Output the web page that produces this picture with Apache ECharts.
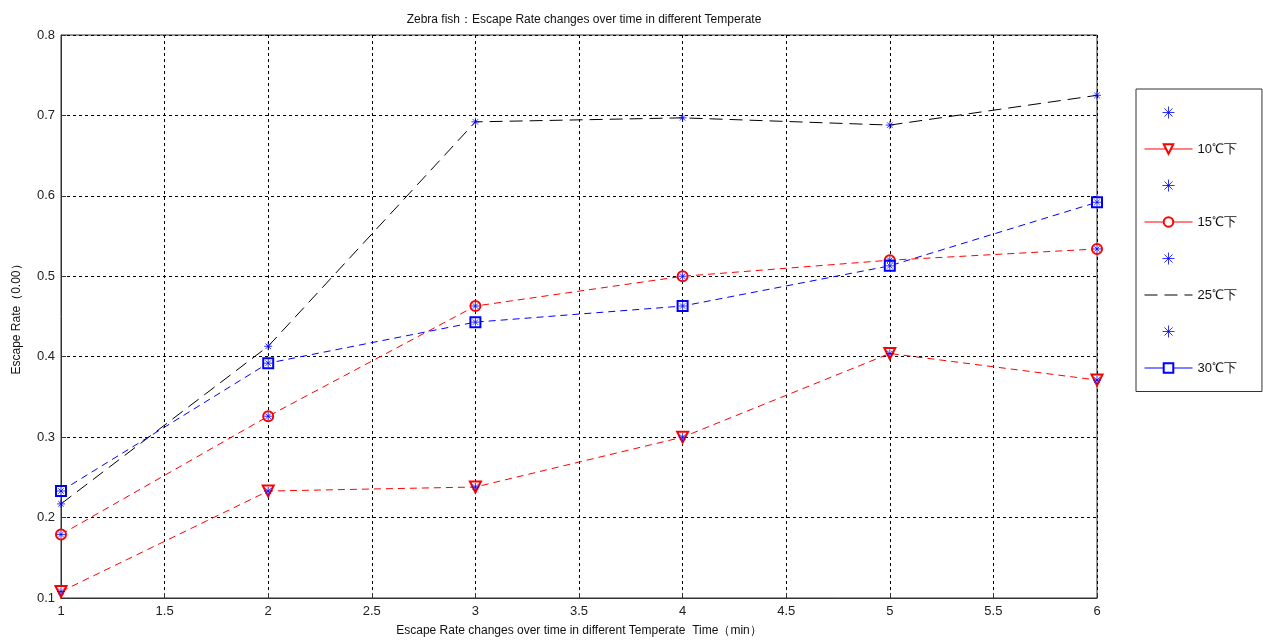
<!DOCTYPE html>
<html>
<head>
<meta charset="utf-8">
<script src="https://cdn.jsdelivr.net/npm/echarts@6/dist/echarts.min.js"></script>
<style>html,body{margin:0;padding:0;background:#fff}#c{width:1263px;height:643px}</style>
</head>
<body>
<div id="c"></div>
<script>
var times = [1, 2, 3, 4, 5, 6];
var rate10 = [0.108, 0.233, 0.238, 0.300, 0.404, 0.371];
var rate15 = [0.179, 0.326, 0.463, 0.500, 0.520, 0.534];
var rate25 = [0.217, 0.413, 0.692, 0.697, 0.688, 0.725];
var rate30 = [0.233, 0.392, 0.443, 0.463, 0.513, 0.592];
var names = ['10℃下', '15℃下', '25℃下', '30℃下'];
var starNames = [' ', '  ', '   ', '    '];
var titleText = 'Zebra fish：Escape Rate changes over time in different Temperate';
var xName = 'Escape Rate changes over time in different Temperate  Time（min）';
var yName = 'Escape Rate（0.00）';

function pts(arr) { return times.map(function (t, i) { return [t, arr[i]]; }); }
var STAR = 'path://M0,5L10,5M5,0L5,10M1.6,1.6L8.4,8.4M8.4,1.6L1.6,8.4';
var FONT = '"Liberation Sans", Arial, sans-serif';

function lineSeries(name, data, color, symbol, rot, dash, size) {
  return {
    name: name, type: 'line', data: pts(data), symbol: symbol, symbolSize: size,
    symbolRotate: rot, showSymbol: true, z: 3,
    lineStyle: { color: color, width: 1, type: dash },
    itemStyle: { color: color, borderColor: color, borderWidth: 1 }
  };
}
function starSeries(name, data) {
  return {
    name: name, type: 'scatter', data: pts(data), symbol: STAR, symbolSize: 8, z: 5,
    itemStyle: { color: '#0000ff', borderColor: '#0000ff', borderWidth: 1 }
  };
}

var series = [
  lineSeries(names[0], rate10, '#ff0000', 'emptyTriangle', 180, [7, 5], 11),
  lineSeries(names[1], rate15, '#ff0000', 'emptyCircle', 0, [7, 5], 10),
  lineSeries(names[2], rate25, '#000000', 'none', 0, [13, 7], 1),
  lineSeries(names[3], rate30, '#0000ff', 'emptyRect', 0, [7, 5], 10),
  starSeries(starNames[0], rate10),
  starSeries(starNames[1], rate15),
  starSeries(starNames[2], rate25),
  starSeries(starNames[3], rate30)
];

function starItem(n) { return { name: n, itemStyle: { borderWidth: 1 } }; }
function lineItem(n, dash, hideSym) {
  return { name: n, lineStyle: { type: dash, width: 1 },
    itemStyle: hideSym ? { opacity: 0 } : { borderWidth: 1 } };
}

var chart = echarts.init(document.getElementById('c'));
chart.setOption({
  animation: false,
  backgroundColor: '#fff',
  title: {
    text: titleText, left: 579, top: 9, textAlign: 'center',
    textStyle: { fontFamily: FONT, fontSize: 12, fontWeight: 'normal', color: '#111' }
  },
  legend: {
    orient: 'vertical', left: 1136, top: 89,
    padding: [17, 25, 17, 8], itemGap: 23.5, itemWidth: 48, itemHeight: 12,
    borderColor: '#333', borderWidth: 1, backgroundColor: '#fff',
    data: [starItem(starNames[0]), lineItem(names[0], 'solid'),
           starItem(starNames[1]), lineItem(names[1], 'solid'),
           starItem(starNames[2]), lineItem(names[2], [13, 7], true),
           starItem(starNames[3]), lineItem(names[3], 'solid')],
    formatter: function (n) { return n.trim() === '' ? '' : n; },
    textStyle: { fontFamily: FONT, fontSize: 13, color: '#111' }
  },
  grid: { left: 61, right: 166, top: 35, bottom: 45, show: true, borderColor: '#333', borderWidth: 1 },
  xAxis: {
    type: 'value', min: 1, max: 6, interval: 0.5,
    name: xName, nameLocation: 'middle', nameGap: 27,
    nameTextStyle: { fontFamily: FONT, fontSize: 12, color: '#111' },
    axisLine: { lineStyle: { color: '#333' } },
    axisTick: { inside: true, length: 5, lineStyle: { color: '#333' } },
    axisLabel: { fontFamily: FONT, fontSize: 13, color: '#222', margin: 7 },
    splitLine: { show: true, lineStyle: { color: '#000', type: [3, 3], width: 1 } }
  },
  yAxis: {
    type: 'value', min: 0.1, max: 0.8, interval: 0.1,
    name: yName, nameLocation: 'middle', nameGap: 38,
    nameTextStyle: { fontFamily: FONT, fontSize: 12, color: '#111' },
    axisLine: { show: true, lineStyle: { color: '#333' } },
    axisTick: { show: true, inside: true, length: 5, lineStyle: { color: '#333' } },
    axisLabel: { fontFamily: FONT, fontSize: 13, color: '#222', margin: 6,
      formatter: function (v) { return (Math.round(v * 10) / 10).toString(); } },
    splitLine: { show: true, lineStyle: { color: '#000', type: [3, 3], width: 1 } }
  },
  series: series
});
</script>
</body>
</html>
